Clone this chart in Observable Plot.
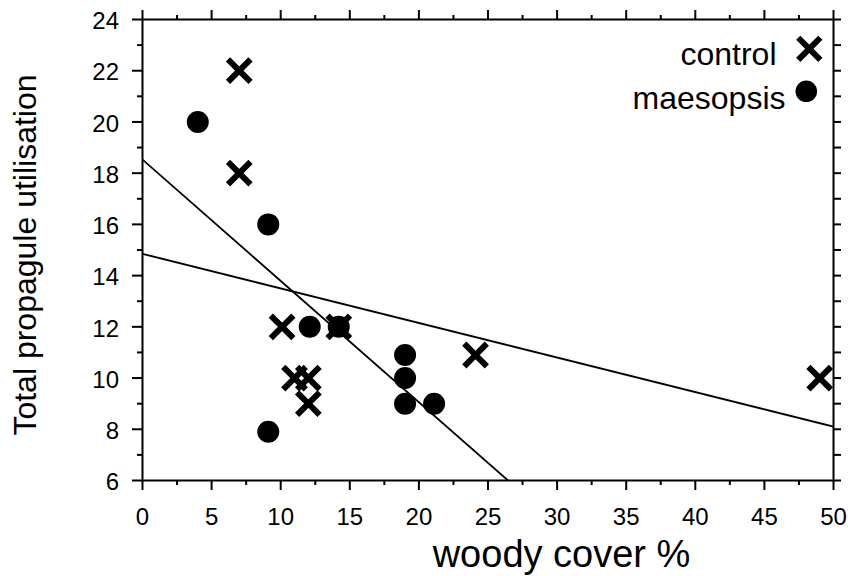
<!DOCTYPE html>
<html>
<head>
<meta charset="utf-8">
<script src="https://cdn.jsdelivr.net/npm/d3@7"></script>
<script src="https://cdn.jsdelivr.net/npm/@observablehq/plot@0.6"></script>
<style>
  html, body { margin: 0; padding: 0; background: #fff; }
  #chart { width: 848px; height: 576px; }
</style>
</head>
<body>
<div id="chart"></div>
<script>
// ---- Data ----
const controlX   = [7, 7, 10.1, 11, 12, 12, 14.2, 24.1, 49];
const controlY   = [22, 18, 12, 10, 10, 9, 12, 10.9, 10];
const maesopsisX = [4, 9.1, 9.1, 12.1, 14.2, 19, 19, 19, 21.1];
const maesopsisY = [20, 16, 7.9, 12, 12, 10.9, 10, 9, 9];

const seriesNames = ["control", "maesopsis"];
const xLabel = "woody cover %";
const yLabel = "Total propagule utilisation";

const xMajorTicks = [0, 5, 10, 15, 20, 25, 30, 35, 40, 45, 50];
const xMinorTicks = [2.5, 7.5, 12.5, 17.5, 22.5, 27.5, 32.5, 37.5, 42.5, 47.5];
const yMajorTicks = [6, 8, 10, 12, 14, 16, 18, 20, 22, 24];
const yMinorTicks = [7, 9, 11, 13, 15, 17, 19, 21, 23];
const yRightTicks = [6, 7, 8, 9, 10, 11, 12, 13, 14, 15, 16, 17, 18, 19, 20, 21, 22, 23, 24];
const xDomain = [0, 50];
const yDomain = [6, 24];

// ---- Build tables ----
const control = controlX.map((x, i) => ({x, y: controlY[i]}));
const maesopsis = maesopsisX.map((x, i) => ({x, y: maesopsisY[i]}));

// least-squares fit of each group, drawn across the x domain
function fitLine(pts) {
  const mx = d3.mean(pts, d => d.x), my = d3.mean(pts, d => d.y);
  const sxy = d3.sum(pts, d => (d.x - mx) * (d.y - my));
  const sxx = d3.sum(pts, d => (d.x - mx) ** 2);
  const b = sxy / sxx, a = my - b * mx;
  return xDomain.map(x => ({x, y: a + b * x}));
}
const controlFit = fitLine(control);
const maesopsisFit = fitLine(maesopsis);

const blank = () => "";

const chart = Plot.plot({
  width: 848,
  height: 576,
  marginLeft: 142,
  marginRight: 15,
  marginTop: 19,
  marginBottom: 96,
  x: {domain: xDomain},
  y: {domain: yDomain},
  style: {fontFamily: "'Liberation Sans', Arial, Helvetica, sans-serif", background: "white", color: "black", overflow: "visible"},
  marks: [
    // axes: ticks
    Plot.axisX(xMajorTicks, {anchor: "bottom", tickSize: 10, strokeWidth: 2, tickFormat: blank, label: null}),
    Plot.axisX(xMinorTicks, {anchor: "bottom", tickSize: 5, strokeWidth: 2, tickFormat: blank, label: null}),
    Plot.axisX(xMajorTicks, {anchor: "top", tickSize: 10, strokeWidth: 2, tickFormat: blank, label: null}),
    Plot.axisX(xMinorTicks, {anchor: "top", tickSize: 5, strokeWidth: 2, tickFormat: blank, label: null}),
    Plot.axisY(yMajorTicks, {anchor: "left", tickSize: 10, strokeWidth: 2, tickFormat: blank, label: null}),
    Plot.axisY(yMinorTicks, {anchor: "left", tickSize: 5, strokeWidth: 2, tickFormat: blank, label: null}),
    Plot.axisY(yRightTicks, {anchor: "right", tickSize: 7, strokeWidth: 2, tickFormat: blank, label: null}),
    // axes: tick labels
    Plot.axisX(xMajorTicks, {anchor: "bottom", tickSize: 0, tickPadding: 27, fontSize: 24, label: null}),
    Plot.axisY(yMajorTicks, {anchor: "left", tickSize: 0, tickPadding: 23.5, fontSize: 24, dy: 2, label: null}),
    Plot.frame({stroke: "black", strokeWidth: 2}),
    // regression lines
    Plot.line(controlFit, {x: "x", y: "y", stroke: "black", strokeWidth: 1.8, clip: true}),
    Plot.line(maesopsisFit, {x: "x", y: "y", stroke: "black", strokeWidth: 1.8, clip: true}),
    // points
    Plot.dot(maesopsis, {x: "x", y: "y", r: 11, fill: "black", symbol: "circle"}),
    Plot.dot(control, {x: "x", y: "y", r: 10.3, symbol: "times", stroke: "black", strokeWidth: 6, strokeLinecap: "butt"}),
    // legend
    Plot.dot([seriesNames[0]], {frameAnchor: "top-right", dx: -24.2, dy: 29.3, r: 10.1, symbol: "times", stroke: "black", strokeWidth: 6, strokeLinecap: "butt"}),
    Plot.dot([seriesNames[1]], {frameAnchor: "top-right", dx: -27.2, dy: 71.8, r: 10.8, symbol: "circle", fill: "black"}),
    Plot.text([seriesNames[0]], {text: d => d, frameAnchor: "top-right", textAnchor: "end", lineAnchor: "middle", dx: -57, dy: 34.8, fontSize: 32}),
    Plot.text([seriesNames[1]], {text: d => d, frameAnchor: "top-right", textAnchor: "end", lineAnchor: "middle", dx: -48, dy: 79, fontSize: 32}),
    // axis titles
    Plot.text([xLabel], {text: d => d, frameAnchor: "bottom", textAnchor: "middle", lineAnchor: "middle", dx: 73.5, dy: 74.5, fontSize: 38}),
    Plot.text([yLabel], {text: d => d, frameAnchor: "left", textAnchor: "middle", lineAnchor: "middle", rotate: -90, dx: -117.2, dy: 5, fontSize: 32})
  ]
});
document.getElementById("chart").appendChild(chart);
</script>
</body>
</html>
